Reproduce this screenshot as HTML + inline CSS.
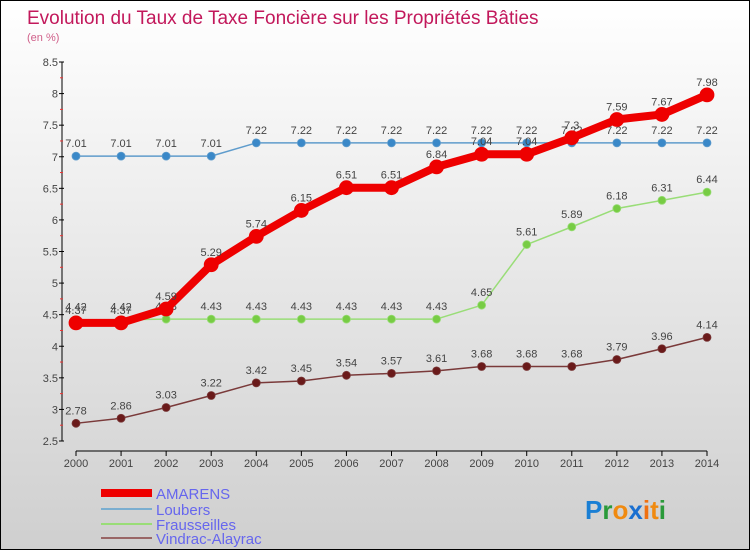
<!DOCTYPE html>
<html><head><meta charset="utf-8"><style>
html,body{margin:0;padding:0}
body{width:750px;height:550px;overflow:hidden;font-family:"Liberation Sans",sans-serif}
#wrap{position:absolute;left:0;top:0;width:748px;height:548px;border:1px solid #000;background:linear-gradient(#ffffff,#cfcfcf)}
text{font-family:"Liberation Sans",sans-serif}
</style></head><body>
<div id="wrap">
<svg id="svg" width="748" height="548">
<text x="26" y="23" font-size="19" fill="#c2185b">Evolution du Taux de Taxe Foncière sur les Propriétés Bâties</text>
<text x="26" y="40" font-size="11" fill="#d0608a">(en %)</text>
<g id="axes"></g><g id="series"></g>
<g>
<line x1="100" y1="492" x2="151" y2="492" stroke="#ee0000" stroke-width="8"/>
<text x="155" y="498" font-size="15" fill="#6666ee">AMARENS</text>
<line x1="100" y1="508" x2="151" y2="508" stroke="#7aaed0" stroke-width="2"/>
<text x="155" y="514" font-size="15" fill="#6666ee">Loubers</text>
<line x1="100" y1="523" x2="151" y2="523" stroke="#99dd77" stroke-width="2"/>
<text x="155" y="529" font-size="15" fill="#6666ee">Frausseilles</text>
<line x1="100" y1="537" x2="151" y2="537" stroke="#996666" stroke-width="2"/>
<text x="155" y="543" font-size="15" fill="#6666ee">Vindrac-Alayrac</text>
</g>
<g font-size="26" font-weight="bold">
<text x="584" y="518"><tspan fill="#1a7fd4">P</tspan><tspan fill="#2a9a3a">r</tspan><tspan fill="#f08a10">o</tspan><tspan fill="#1a6fd0">x</tspan><tspan fill="#f07010">i</tspan><tspan fill="#f08a10">t</tspan><tspan fill="#2a9a3a">i</tspan></text>
</g>
</svg></div>
<script>
const years=["2000","2001","2002","2003","2004","2005","2006","2007","2008","2009","2010","2011","2012","2013","2014"];
const yTicks=[2.5,3,3.5,4,4.5,5,5.5,6,6.5,7,7.5,8,8.5];
const amarens=[4.37,4.37,4.59,5.29,5.74,6.15,6.51,6.51,6.84,7.04,7.04,7.3,7.59,7.67,7.98];
const loubers=[7.01,7.01,7.01,7.01,7.22,7.22,7.22,7.22,7.22,7.22,7.22,7.22,7.22,7.22,7.22];
const frausseilles=[4.42,4.42,4.43,4.43,4.43,4.43,4.43,4.43,4.43,4.65,5.61,5.89,6.18,6.31,6.44];
const vindrac=[2.78,2.86,3.03,3.22,3.42,3.45,3.54,3.57,3.61,3.68,3.68,3.68,3.79,3.96,4.14];
const NS="http://www.w3.org/2000/svg";
const X=i=>75+i*(706-75)/(years.length-1);
const Y=v=>61+(8.5-v)*(440-61)/6;
function mk(t,a,p){const e=document.createElementNS(NS,t);for(const k in a)e.setAttribute(k,a[k]);p.appendChild(e);return e;}
const ax=document.getElementById('axes');
let e=mk('line',{x1:61,y1:Y(8.5),x2:61,y2:Y(2.5),stroke:'#000','stroke-width':1},ax);


e=mk('line',{x1:75,y1:450,x2:706,y2:450,stroke:'#000','stroke-width':1},ax);


yTicks.forEach((v,i)=>{
 mk('line',{x1:58,x2:63,y1:Y(v),y2:Y(v),stroke:'#000'},ax);
 if(i<yTicks.length-1)mk('line',{x1:59,x2:62,y1:Y(v+0.25),y2:Y(v+0.25),stroke:'#e33'},ax);
 const t=mk('text',{x:57,y:Y(v)+4,'text-anchor':'end','font-size':11,fill:'#444'},ax);
 t.textContent=String(v);
 
 
});
years.forEach((y,i)=>{
 mk('line',{x1:X(i),x2:X(i),y1:450,y2:455,stroke:'#000'},ax);
 const t=mk('text',{x:X(i),y:466,'text-anchor':'middle','font-size':11,fill:'#444'},ax);
 t.textContent=y;
 
 
});
const sg=document.getElementById('series');
function series(name,data,color,w,r,fill){
 const g=mk('g',{},sg);
 
 
 mk('polyline',{points:data.map((v,i)=>X(i)+','+Y(v)).join(' '),fill:'none',stroke:color,'stroke-width':w,'stroke-linejoin':'round'},g);
 data.forEach((v,i)=>{
  const c=mk('circle',{cx:X(i),cy:Y(v),r:r,fill:fill,stroke:color,'stroke-width':0.8},g);
  
  
  const t=mk('text',{x:X(i),y:Y(v)-9,'text-anchor':'middle','font-size':11,fill:'#444'},g);
  t.textContent=String(v);
 });
}
series('vindrac',vindrac,'#7a3a3a',1.5,4,'#6a1a1a');
series('frausseilles',frausseilles,'#99dd77',1.5,4,'#77cc44');
series('loubers',loubers,'#5f9ccc',1.5,4,'#3a88c8');
series('amarens',amarens,'#ee0000',8,7,'#ee0000');
</script>
</body></html>
